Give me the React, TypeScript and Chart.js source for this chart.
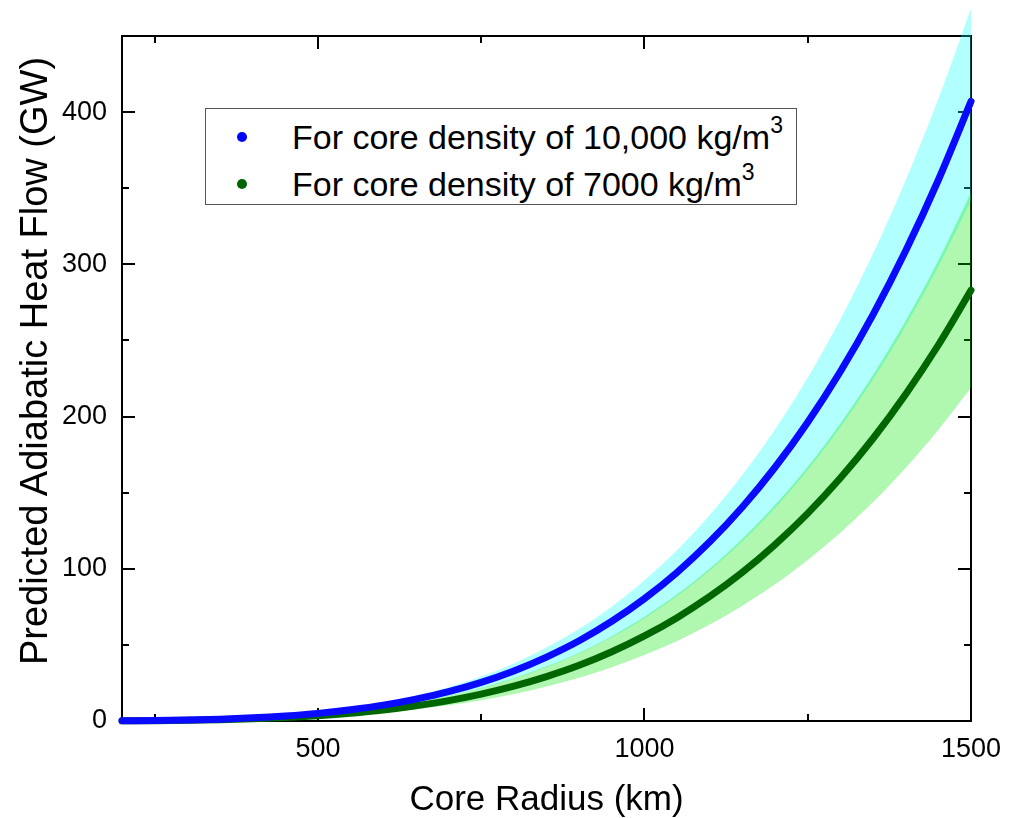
import React, { useEffect, useRef } from "react";
import { Chart, registerables } from "chart.js";

Chart.register(...registerables);

// Core radius samples (km)
const radiusKm = [
  200, 250, 300, 350, 400, 450, 500, 550, 600, 650, 700, 750, 800, 850, 900,
  950, 1000, 1050, 1100, 1150, 1200, 1250, 1300, 1350, 1400, 1450, 1500,
];

// Predicted adiabatic heat flow (GW), core density 10,000 kg/m3
const flow10000 = [
  0.13, 0.31, 0.65, 1.2, 2.06, 3.3, 5.0, 7.4, 10.4, 14.4, 19.3, 25.4, 32.9,
  42.0, 52.7, 65.5, 80.4, 97.7, 117.7, 140.6, 166.7, 196.3, 229.6, 267.0,
  308.9, 355.4, 407,
];
const flow10000Upper = [
  0.15, 0.36, 0.75, 1.4, 2.4, 3.8, 5.8, 8.5, 12.0, 16.6, 22.2, 29.2, 37.8,
  48.3, 60.6, 75.3, 92.5, 112.4, 135.4, 161.7, 191.7, 225.7, 264.0, 307.1,
  355.2, 408.7, 468,
];
const flow10000Lower = [
  0.11, 0.26, 0.55, 1.0, 1.73, 2.8, 4.2, 6.2, 8.7, 12.1, 16.2, 21.3, 27.6,
  35.3, 44.3, 55.0, 67.5, 82.1, 98.9, 118.1, 140.0, 164.9, 192.9, 224.3,
  259.5, 298.5, 342,
];

// Predicted adiabatic heat flow (GW), core density 7000 kg/m3
const flow7000 = [
  0.09, 0.22, 0.45, 0.83, 1.43, 2.3, 3.5, 5.1, 7.2, 10.0, 13.4, 17.7, 22.9,
  29.2, 36.6, 45.5, 55.9, 67.9, 81.8, 97.7, 115.9, 136.4, 159.6, 185.6, 214.7,
  247.0, 283,
];
const flow7000Upper = [
  0.11, 0.27, 0.55, 1.0, 1.75, 2.8, 4.3, 6.2, 8.8, 12.3, 16.4, 21.7, 28.1,
  35.8, 44.8, 55.7, 68.5, 83.2, 100.2, 119.7, 142.0, 167.1, 195.5, 227.4,
  263.0, 302.6, 347,
];
const flow7000Lower = [
  0.07, 0.17, 0.35, 0.64, 1.1, 1.8, 2.7, 4.0, 5.6, 7.8, 10.4, 13.7, 17.7,
  22.6, 28.4, 35.3, 43.3, 52.6, 63.4, 75.7, 89.8, 105.7, 123.7, 143.8, 166.4,
  191.4, 219,
];

const xTickValues = [500, 1000, 1500];
const xMinorTickValues = [250, 750, 1250];
const yTickValues = [0, 100, 200, 300, 400];
const yMinorTickValues = [50, 150, 250, 350];

const xTitle = "Core Radius (km)";
const yTitle = "Predicted Adiabatic Heat Flow (GW)";
const legendLabels = ["For core density of 10,000 kg/m", "For core density of 7000 kg/m"];
const legendSup = "3";

const FONT = "'Liberation Sans', Arial, sans-serif";
const CYAN_FILL = "rgba(0,255,255,0.3)";

const toPoints = (ys: number[]) => radiusKm.map((x, i) => ({ x, y: ys[i] }));

const framePlugin = {
  id: "frame",
  beforeDatasetsDraw(chart: any) {
    const { ctx, chartArea: a, scales } = chart;
    const xs = scales.x;
    const ys = scales.y;
    ctx.save();
    ctx.strokeStyle = "#000";
    ctx.lineWidth = 2;
    ctx.strokeRect(a.left, a.top, a.right - a.left, a.bottom - a.top);
    ctx.beginPath();
    const major = 13;
    const minor = 7;
    const xt = (v: number, L: number) => {
      const p = Math.round(xs.getPixelForValue(v));
      ctx.moveTo(p, a.bottom);
      ctx.lineTo(p, a.bottom - L);
      ctx.moveTo(p, a.top);
      ctx.lineTo(p, a.top + L);
    };
    const yt = (v: number, L: number) => {
      const p = Math.round(ys.getPixelForValue(v));
      ctx.moveTo(a.left, p);
      ctx.lineTo(a.left + L, p);
      ctx.moveTo(a.right, p);
      ctx.lineTo(a.right - L, p);
    };
    xTickValues.forEach((v) => xt(v, major));
    xMinorTickValues.forEach((v) => xt(v, minor));
    yTickValues.forEach((v) => yt(v, major));
    yMinorTickValues.forEach((v) => yt(v, minor));
    ctx.stroke();

    // cyan band spilling above the top frame (as in the original figure)
    const up = chart.getDatasetMeta(4).data;
    const lo = chart.getDatasetMeta(5).data;
    if (up.length && lo.length) {
      ctx.save();
      ctx.beginPath();
      ctx.rect(a.left, 0, a.right - a.left + 2, a.top);
      ctx.clip();
      ctx.beginPath();
      up.forEach((p: any, i: number) => (i ? ctx.lineTo(p.x, p.y) : ctx.moveTo(p.x, p.y)));
      for (let i = lo.length - 1; i >= 0; i--) ctx.lineTo(lo[i].x, lo[i].y);
      ctx.closePath();
      ctx.fillStyle = CYAN_FILL;
      ctx.fill();
      ctx.restore();
    }
    ctx.restore();
  },
};

export default function App() {
  const canvasRef = useRef<HTMLCanvasElement | null>(null);

  useEffect(() => {
    if (!canvasRef.current) return;
    const band = {
      borderWidth: 0,
      pointRadius: 0,
      tension: 0,
      cubicInterpolationMode: "monotone" as const,
    };
    const chart = new Chart(canvasRef.current, {
      type: "line",
      data: {
        datasets: [
          {
            label: legendLabels[0] + legendSup,
            data: toPoints(flow10000),
            borderColor: "#0a0aff",
            borderWidth: 7,
            borderCapStyle: "round",
            pointRadius: 0,
            fill: false,
            cubicInterpolationMode: "monotone",
            clip: false,
          },
          {
            label: legendLabels[1] + legendSup,
            data: toPoints(flow7000),
            borderColor: "#006600",
            borderWidth: 7,
            borderCapStyle: "round",
            pointRadius: 0,
            fill: false,
            cubicInterpolationMode: "monotone",
            clip: false,
          },
          {
            label: "7000 upper",
            data: toPoints(flow7000Upper),
            backgroundColor: "rgba(0,230,0,0.31)",
            fill: "+1",
            ...band,
          },
          {
            label: "7000 lower",
            data: toPoints(flow7000Lower),
            fill: false,
            ...band,
          },
          {
            label: "10000 upper",
            data: toPoints(flow10000Upper),
            backgroundColor: CYAN_FILL,
            fill: "+1",
            ...band,
          },
          {
            label: "10000 lower",
            data: toPoints(flow10000Lower),
            fill: false,
            ...band,
          },
        ],
      },
      options: {
        animation: false,
        responsive: false,
        maintainAspectRatio: false,
        layout: { padding: { top: 36, right: 45, left: 0, bottom: 0 } },
        plugins: {
          legend: { display: false },
          tooltip: { enabled: false },
        },
        scales: {
          x: {
            type: "linear",
            min: 200,
            max: 1500,
            grid: { display: false, drawTicks: false },
            border: { display: false },
            afterBuildTicks: (s: any) => {
              s.ticks = xTickValues.map((v) => ({ value: v }));
            },
            afterFit: (s: any) => {
              s.height = 97;
            },
            ticks: {
              color: "#000",
              padding: 12,
              maxRotation: 0,
              font: { family: FONT, size: 27 },
              callback: (v: any) => String(v),
            },
            title: {
              display: true,
              text: xTitle,
              color: "#000",
              font: { family: FONT, size: 35, lineHeight: 1 },
              padding: { top: 0, bottom: 0 },
            },
          },
          y: {
            type: "linear",
            min: 0,
            max: 450,
            grid: { display: false, drawTicks: false },
            border: { display: false },
            afterBuildTicks: (s: any) => {
              s.ticks = yTickValues.map((v) => ({ value: v }));
            },
            afterFit: (s: any) => {
              s.width = 122;
            },
            ticks: {
              color: "#000",
              padding: 15,
              font: { family: FONT, size: 27 },
              callback: (v: any) => String(v),
            },
            title: { display: false, text: yTitle },
          },
        },
      },
      plugins: [framePlugin],
    });
    return () => chart.destroy();
  }, []);

  const dot = (color: string) => ({
    position: "absolute" as const,
    left: 237,
    width: 10,
    height: 10,
    borderRadius: "50%",
    background: color,
  });

  return (
    <div
      style={{
        position: "fixed",
        left: 0,
        top: 0,
        width: 1016,
        height: 818,
        background: "#fff",
        fontFamily: FONT,
      }}
    >
      <canvas ref={canvasRef} width={1016} height={818} style={{ display: "block" }} />
      <div
        style={{
          position: "absolute",
          left: 34 - 400,
          top: 361 - 22,
          width: 800,
          height: 44,
          lineHeight: "44px",
          textAlign: "center",
          fontSize: 38,
          color: "#000",
          whiteSpace: "nowrap",
          transform: "rotate(-90deg)",
          transformOrigin: "50% 50%",
        }}
      >
        {yTitle}
      </div>
      <div
        style={{
          position: "absolute",
          left: 205,
          top: 108,
          width: 590,
          height: 95,
          border: "1.5px solid #555",
          background: "#fff",
        }}
      />
      <div style={{ ...dot("#0000ff"), top: 132 }} />
      <div style={{ ...dot("#006400"), top: 179 }} />
      {legendLabels.map((t, i) => (
        <div
          key={i}
          style={{
            position: "absolute",
            left: 292,
            top: 137 + i * 47 - 20,
            height: 40,
            lineHeight: "40px",
            fontSize: 34,
            color: "#000",
            whiteSpace: "nowrap",
          }}
        >
          {t}
          <sup style={{ fontSize: 23, verticalAlign: "0.7em", lineHeight: 0 }}>{legendSup}</sup>
        </div>
      ))}
    </div>
  );
}
